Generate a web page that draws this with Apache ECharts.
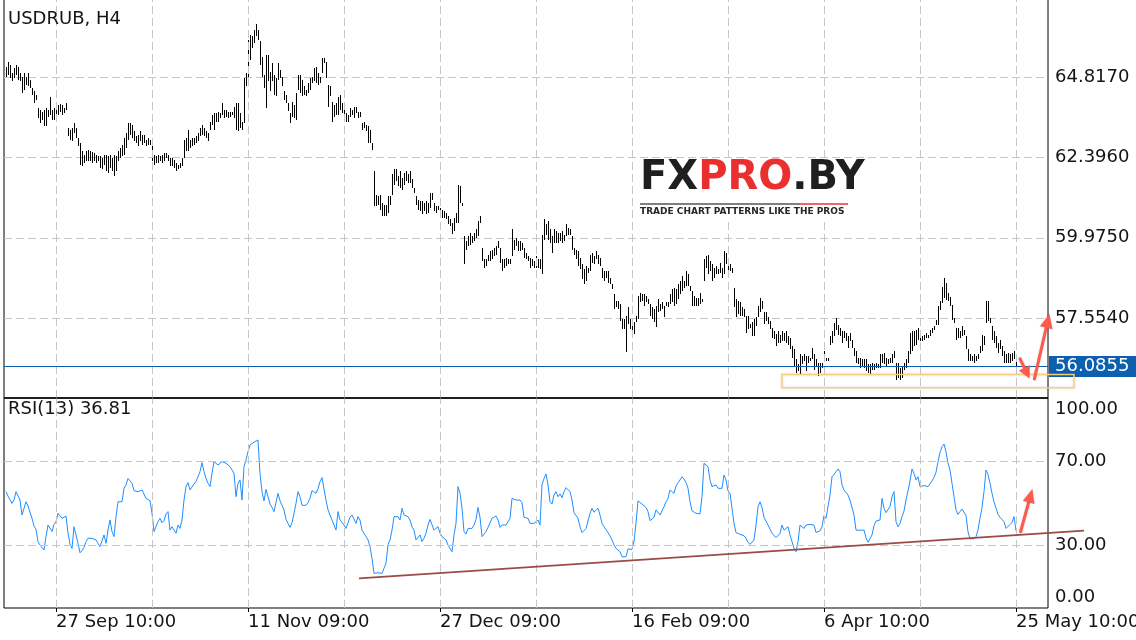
<!DOCTYPE html>
<html><head><meta charset="utf-8">
<script src="https://cdn.jsdelivr.net/npm/echarts@6/dist/echarts.min.js"></script>
<style>html,body{margin:0;padding:0;background:#fff}#c{width:1136px;height:640px}</style>
</head><body><div id="c"></div>
<script>
const symbolTitle = 'USDRUB, H4';
const rsiTitle = 'RSI(13) 36.81';
const dateTickIndex = [25,121,217,313,409,505];
const dateTickLabels = ['27 Sep 10:00','11 Nov 09:00','27 Dec 09:00','16 Feb 09:00','6 Apr 10:00','25 May 10:00'];
const gridTickIndex = [25,73,121,169,217,265,313,361,409,457,505];
const priceTicks = [57.554,59.975,62.396,64.817];
const rsiTicks = [0,30,70,100];
const lastPrice = 56.0855;
// H4 bars: [low, high]
const barsHL = [
[64.85,65.15],[64.9,65.3],[64.8,65.2],[64.7,64.95],[64.8,65.1],[64.9,65.2],[64.75,65.15],[64.7,64.95],[64.35,64.85],[64.45,64.95],
[64.6,64.85],[64.55,64.95],[64.5,64.75],[64.3,64.5],[64.05,64.4],[64.15,64.3],[63.59,63.89],[63.44,63.84],[63.54,63.79],[63.34,63.84],
[63.34,63.89],[63.64,63.84],[63.69,64.24],[63.54,63.84],[63.54,63.89],[63.64,63.94],[63.69,63.99],[63.79,64.01],[63.69,63.99],[63.74,63.89],
[63.84,64.04],[63.04,63.29],[62.94,63.24],[62.89,63.29],[63.14,63.44],[62.99,63.29],[62.74,62.99],[62.19,62.84],[62.14,62.59],[62.24,62.49],
[62.29,62.59],[62.29,62.64],[62.29,62.59],[62.24,62.57],[62.29,62.54],[62.24,62.49],[62.29,62.44],[62.09,62.44],[62.04,62.39],[62.19,62.49],
[61.99,62.49],[61.94,62.44],[62.09,62.49],[61.99,62.39],[61.84,62.49],[61.99,62.44],[62.29,62.59],[62.39,62.69],[62.44,62.79],[62.49,62.99],
[62.69,63.14],[62.94,63.44],[63.09,63.44],[62.99,63.39],[62.89,63.19],[62.84,63.04],[62.74,63.09],[62.89,63.19],[62.79,63.09],[62.84,63.09],
[62.74,62.94],[62.79,62.99],[62.79,62.94],[62.29,62.79],[62.19,62.49],[62.24,62.44],[62.24,62.49],[62.29,62.44],[62.24,62.49],[62.29,62.54],
[62.39,62.54],[62.29,62.49],[62.14,62.39],[62.14,62.39],[62.09,62.34],[61.99,62.24],[62.04,62.19],[62.09,62.24],[62.14,62.39],[62.39,62.94],
[62.59,62.99],[62.59,63.24],[62.69,62.94],[62.74,62.99],[62.79,62.99],[62.84,63.04],[62.89,63.14],[63.04,63.29],[63.09,63.39],[63.04,63.29],
[62.99,63.19],[62.89,63.14],[63.24,63.49],[63.39,63.69],[63.24,63.74],[63.49,63.74],[63.49,63.79],[63.59,63.74],[63.69,64.04],[63.59,63.84],
[63.64,63.84],[63.59,63.79],[63.64,63.79],[63.69,63.79],[63.59,63.94],[63.24,64.04],[63.19,64.04],[63.29,63.74],[63.24,63.49],[63.44,64.8],
[64.55,64.95],[64.85,65.96],[65.35,66.11],[65.71,66.06],[65.86,66.26],[66.06,66.43],[65.96,66.26],[65.2,65.91],[64.85,65.45],[64.5,64.9],
[63.9,65.5],[64.7,65.5],[64.4,65.0],[64.7,65.25],[64.3,64.9],[64.25,64.8],[64.75,65.25],[64.8,65.05],[64.55,64.85],[64.15,64.4],
[64.05,64.3],[63.8,64.04],[63.44,63.74],[63.64,64.09],[63.59,63.99],[63.54,64.35],[64.45,64.9],[64.35,64.9],[64.25,64.75],[64.3,64.55],
[64.25,64.45],[64.35,64.65],[64.45,64.8],[64.65,64.85],[64.7,65.1],[64.65,65.15],[64.6,64.95],[64.65,64.85],[64.95,65.4],[65.25,65.4],
[64.8,65.3],[63.94,64.6],[64.25,64.55],[63.49,64.09],[63.64,63.99],[63.69,64.04],[63.69,64.24],[63.84,64.3],[63.74,64.04],[63.59,63.84],
[63.49,63.74],[63.49,63.69],[63.64,63.89],[63.69,63.84],[63.59,63.94],[63.74,63.94],[63.59,63.79],[63.64,63.79],[63.24,63.44],[63.29,63.49],
[63.19,63.39],[62.84,63.34],[62.84,63.24],[62.64,62.84],[60.93,61.99],[60.93,61.28],[60.98,61.23],[60.83,61.28],[60.63,61.03],[60.63,60.98],
[60.63,60.98],[60.73,61.23],[60.98,61.23],[61.28,61.89],[61.58,62.04],[61.68,62.04],[61.53,61.84],[61.48,61.99],[61.43,61.79],[61.58,61.94],
[61.68,61.99],[61.63,61.89],[61.63,61.99],[61.48,61.74],[61.33,61.48],[60.98,61.23],[60.83,61.13],[60.78,61.08],[60.68,61.08],[60.78,61.03],
[60.68,61.08],[60.73,61.03],[60.88,61.33],[61.13,61.33],[60.78,61.03],[60.73,60.93],[60.83,60.93],[60.68,60.88],[60.58,60.83],[60.58,60.78],
[60.53,60.73],[60.38,60.63],[60.33,60.53],[60.08,60.43],[60.18,60.58],[60.43,60.73],[60.43,61.58],[61.03,61.53],[60.93,61.03],[59.17,60.03],
[59.62,59.87],[59.72,60.03],[59.77,60.13],[59.82,60.03],[59.87,60.13],[59.97,60.23],[60.03,60.48],[60.43,60.63],[59.27,59.67],[59.07,59.32],
[59.12,59.32],[59.27,59.47],[59.27,59.57],[59.32,59.62],[59.42,59.67],[59.47,59.72],[59.67,59.87],[59.22,59.67],[58.97,59.32],[59.07,59.32],
[59.12,59.37],[59.17,59.32],[59.17,59.32],[59.42,60.23],[59.62,59.92],[59.72,59.97],[59.57,59.87],[59.57,59.87],[59.62,59.82],[59.37,59.67],
[59.32,59.52],[59.27,59.42],[59.07,59.37],[59.12,59.32],[59.07,59.27],[59.07,59.42],[59.07,59.32],[59.02,59.32],[58.87,60.07],[59.92,60.53],
[60.07,60.38],[59.92,60.48],[59.82,60.23],[59.52,60.03],[59.82,60.23],[59.82,60.18],[59.82,60.13],[59.87,60.13],[59.82,60.18],[59.87,60.07],
[60.03,60.38],[60.07,60.28],[60.07,60.23],[59.62,60.03],[59.47,59.67],[59.32,59.62],[59.12,59.57],[59.02,59.37],[58.72,59.17],[58.57,59.02],
[58.67,59.12],[58.92,59.07],[58.97,59.47],[59.22,59.52],[59.17,59.42],[59.32,59.57],[59.17,59.47],[59.12,59.37],[58.77,59.07],[58.67,58.97],
[58.77,58.97],[58.62,58.97],[58.57,58.77],[58.42,58.57],[57.82,58.27],[57.87,58.07],[57.82,58.07],[57.47,57.97],[57.21,57.51],[57.21,57.51],
[56.51,57.61],[57.37,57.87],[57.21,57.51],[56.96,57.37],[57.06,57.42],[57.42,57.61],[57.52,58.22],[58.02,58.32],[58.07,58.27],[57.92,58.27],
[58.02,58.22],[57.97,58.12],[57.62,57.97],[57.52,57.87],[57.42,57.82],[57.27,57.92],[57.72,58.12],[57.77,57.97],[57.82,58.02],[57.57,57.92],
[57.92,58.02],[57.87,58.02],[57.97,58.27],[58.02,58.42],[57.92,58.47],[57.97,58.42],[58.12,58.57],[58.27,58.67],[58.37,58.82],[58.47,58.67],
[58.52,58.97],[58.52,58.87],[58.37,58.52],[57.92,58.37],[57.92,58.22],[57.92,58.17],[57.92,58.17],[57.97,58.32],[58.02,58.12],[58.67,59.32],
[59.07,59.42],[58.87,59.47],[58.97,59.27],[58.67,59.17],[58.77,59.07],[58.87,59.12],[58.87,59.02],[58.92,59.22],[58.77,59.07],[58.87,59.57],
[59.17,59.52],[58.92,59.22],[58.97,59.17],[58.92,59.07],[57.87,58.47],[57.57,58.12],[57.67,58.07],[57.62,58.02],[57.62,57.87],[57.57,57.82],
[57.11,57.61],[57.21,57.61],[57.26,57.37],[57.01,57.42],[57.01,57.52],[57.31,57.57],[57.57,57.92],[57.72,58.17],[57.82,58.07],[57.37,57.72],
[57.47,57.72],[57.37,57.57],[57.21,57.47],[56.96,57.26],[56.91,57.16],[56.71,57.06],[56.81,57.16],[56.8,57.05],[56.85,57.15],[56.85,57.1],
[56.8,57.15],[56.75,57.0],[56.6,56.95],[56.35,56.7],[56.1,56.6],[55.89,56.3],[55.94,56.15],[55.84,56.45],[56.15,56.4],[56.25,56.45],
[55.94,56.4],[56.2,56.4],[56.25,56.35],[56.3,56.65],[55.99,56.45],[56.1,56.3],[55.79,56.2],[55.89,56.2],[56.04,56.2],[56.3,56.55],
[56.25,56.35],[56.25,56.35],[56.75,57.0],[56.8,57.15],[57.0,57.4],[57.2,57.55],[57.05,57.35],[57.0,57.25],[56.8,57.15],[56.95,57.15],
[56.85,57.1],[56.65,57.0],[56.85,57.1],[56.65,56.9],[56.4,56.65],[56.2,56.55],[56.15,56.35],[56.05,56.35],[56.1,56.3],[56.05,56.3],
[55.94,56.3],[55.89,56.15],[55.84,56.15],[55.99,56.2],[55.99,56.15],[56.04,56.2],[56.04,56.15],[56.04,56.45],[56.2,56.45],[56.15,56.5],
[56.1,56.35],[56.15,56.3],[56.2,56.35],[56.2,56.45],[56.35,56.55],[55.69,56.2],[55.74,56.2],[55.69,56.04],[55.74,56.1],[55.99,56.2],
[56.04,56.3],[56.2,56.55],[56.45,57.1],[56.55,57.15],[56.7,57.15],[56.75,57.2],[56.9,57.25],[56.85,57.15],[56.85,57.0],[56.9,57.05],
[56.95,57.1],[56.95,57.05],[57.0,57.2],[57.1,57.25],[57.2,57.3],[57.35,57.5],[57.35,57.9],[57.8,58.05],[58.0,58.5],[58.15,58.75],
[58.1,58.6],[58.05,58.3],[57.9,58.2],[57.5,57.95],[57.4,57.55],[56.9,57.25],[56.95,57.25],[56.95,57.15],[57.0,57.3],[57.05,57.2],
[56.6,57.0],[56.25,56.6],[56.25,56.45],[56.25,56.4],[56.2,56.45],[56.25,56.4],[56.3,56.45],[56.5,56.7],[56.55,57.05],[56.75,57.0],
[57.4,58.05],[57.45,58.05],[57.4,57.55],[56.9,57.3],[56.8,57.15],[56.65,57.0],[56.5,56.8],[56.6,56.9],[56.4,56.7],[56.2,56.55],
[56.2,56.45],[56.2,56.5],[56.2,56.45],[56.25,56.5],[56.3,56.55],[55.99,56.3]
];
const rsi13 = [
55.4,53.3,53.0,49.8,51.4,55.4,54.9,51.4,44.3,44.3,
50.6,48.6,48.0,42.7,39.0,37.5,31.6,30.0,29.2,27.6,
34.0,39.5,38.7,36.4,39.8,41.1,45.1,45.4,42.7,43.2,
43.8,35.6,30.5,28.4,38.7,34.8,30.8,26.3,27.3,28.9,
31.6,33.2,32.4,33.2,32.4,32.4,30.8,29.2,30.0,34.8,
30.8,37.1,41.9,36.4,34.0,43.5,50.6,51.4,50.6,57.0,
58.6,61.7,62.5,59.4,55.9,55.4,55.4,55.4,56.2,57.0,
52.2,51.4,51.1,45.1,36.4,37.1,41.1,42.7,40.6,41.6,
44.8,45.9,37.1,38.7,37.9,35.6,39.5,37.9,41.9,51.4,
57.8,59.7,56.2,56.5,59.0,60.2,61.0,64.9,69.2,64.9,
61.7,59.4,57.8,64.1,69.7,70.5,68.1,68.9,69.7,70.5,
68.9,68.9,67.3,66.5,64.1,53.0,59.4,61.0,51.4,67.3,
70.5,74.4,77.6,78.4,79.0,79.4,80.0,64.0,55.4,51.0,
56.5,53.0,49.5,47.9,45.9,45.7,54.6,51.0,51.7,46.7,
42.2,40.3,38.4,40.6,45.1,49.8,55.4,53.0,48.9,48.6,
48.9,50.2,52.2,55.9,55.9,54.6,56.8,60.2,62.1,62.5,
51.4,46.7,47.5,41.9,39.5,37.1,45.9,41.9,41.6,39.5,
37.9,37.1,43.2,44.3,44.3,40.3,43.5,41.9,37.1,36.4,
34.0,32.4,29.2,23.6,16.5,17.3,16.8,17.3,16.5,16.2,
21.3,30.0,32.4,37.1,43.5,44.3,43.5,41.9,47.5,44.3,
44.3,43.5,41.9,38.7,37.1,32.4,31.6,34.8,31.6,33.2,
35.6,39.5,42.2,41.9,37.1,37.1,38.7,35.6,34.0,34.0,
32.4,30.0,30.8,26.8,34.8,40.3,57.8,54.6,47.5,36.4,
35.2,37.9,38.4,37.9,39.5,42.2,47.9,43.2,34.0,33.2,
36.4,38.4,37.9,42.7,41.9,43.8,41.9,38.4,39.5,39.8,
39.5,40.0,42.7,52.2,51.7,51.4,51.0,51.4,50.2,43.2,
43.2,42.7,40.3,39.5,40.3,41.1,41.9,39.5,58.6,61.7,
63.8,58.6,50.6,49.5,53.8,55.4,53.0,54.3,52.5,55.4,
57.3,57.5,55.4,51.4,45.4,45.9,42.7,38.7,35.9,35.2,
37.8,38.7,45.1,47.5,45.6,45.9,47.5,44.3,40.3,38.7,
38.4,35.9,34.3,32.4,30.0,28.4,29.2,26.8,24.4,24.8,
24.4,28.1,27.3,27.9,31.6,40.3,51.0,50.6,49.5,50.2,
47.9,45.9,41.6,41.3,43.2,46.7,46.3,44.3,45.1,48.2,
50.6,52.2,56.2,57.0,54.6,58.1,59.0,61.0,62.5,61.4,
59.7,57.0,50.6,46.3,45.6,45.1,45.1,44.8,53.0,68.9,
68.9,67.3,61.0,57.8,58.6,58.6,57.0,57.5,57.0,63.3,
61.0,55.7,54.6,53.8,40.3,35.9,35.6,35.1,34.3,34.4,
33.2,31.3,30.3,29.5,32.4,39.5,48.2,50.6,47.9,43.2,
41.4,39.5,37.6,35.6,35.0,33.5,34.0,35.5,39.5,37.1,
37.1,38.7,34.8,34.0,28.4,26.8,31.6,39.5,38.7,37.9,
39.5,39.0,39.8,39.2,39.5,36.0,35.1,36.7,38.7,44.0,
42.7,43.5,53.8,62.5,63.6,64.9,66.2,64.9,58.6,56.2,
56.2,53.8,51.4,50.6,44.3,37.1,36.7,37.0,37.1,37.1,
33.5,31.3,31.6,34.8,39.2,41.4,40.8,41.9,52.2,47.5,
45.4,45.6,48.3,53.0,55.4,41.1,38.7,40.3,43.5,46.2,
51.4,55.7,60.5,66.2,64.1,61.0,62.5,57.8,57.0,58.3,
57.8,57.8,58.3,60.5,62.2,64.6,69.7,74.1,76.8,78.1,
74.4,68.9,65.7,59.4,53.0,46.7,44.6,45.9,47.1,46.8,
44.0,36.3,32.9,32.9,33.0,34.0,37.1,42.7,47.8,55.4,
65.7,63.6,59.4,54.6,50.6,47.5,44.6,43.2,42.9,41.1,
37.9,38.3,39.8,40.8,43.5,36.81
];
// annotations drawn on the chart (data coordinates: bar index, value)
const priceArrowDown = [[507,56.32],[511.8,55.72]];
const priceArrowUp = [[514.2,55.71],[521.7,57.67]];
const rsiArrowUp = [[507.3,36.3],[513.2,56.7]];
const supportZone = [[388,55.84],[534,55.44]];
const rsiTrendLine = [[176.5,14.1],[539,36.8]];

const FONT = '"DejaVu Sans", sans-serif';
const chart = echarts.init(document.getElementById('c'), null, {renderer:'canvas', width:1136, height:640});
const barData = barsHL.map((d,i)=>[i,d[0],d[1]]);
const rsiData = rsi13.map((v,i)=>[i,v]);
const dash = {color:'#c6c6c6', width:1, type:[8,4]};
const txt = {fontFamily:FONT, fontSize:18, color:'#141414'};
const xBase = {type:'value', min:-1, max:521, splitLine:{show:false}, axisLine:{show:false}, axisTick:{show:false}, axisLabel:{show:false}};

function renderBar(params, api){
  const i = api.value(0);
  const lo = api.coord([i, api.value(1)]);
  const hi = api.coord([i, api.value(2)]);
  const x = Math.floor(lo[0]);
  const top = Math.round(hi[1]);
  const h = Math.max(1, Math.round(lo[1]) - top);
  return {type:'rect', shape:{x:x, y:top, width:1, height:h}, style:{fill:'#000'}};
}
const vLines = gridTickIndex.map(v=>({xAxis:v, lineStyle:dash, label:{show:false}}));

const option = {
  animation:false,
  backgroundColor:'#fff',
  title:[
    {text:symbolTitle, left:8, top:10, padding:0, textStyle:{...txt, fontWeight:'normal'}},
    {text:rsiTitle, left:8, top:400, padding:0, textStyle:{...txt, fontWeight:'normal'}}
  ],
  grid:[
    {left:4, right:88, top:-2, height:400, show:true, borderColor:'#000', borderWidth:1, backgroundColor:'transparent', outerBoundsMode:'none', containLabel:false},
    {left:4, right:88, top:398, height:210, show:true, borderColor:'#000', borderWidth:1, backgroundColor:'transparent', outerBoundsMode:'none', containLabel:false}
  ],
  xAxis:[
    {...xBase, gridIndex:0},
    {...xBase, gridIndex:1,
      axisTick:{show:true, customValues:dateTickIndex, length:4, lineStyle:{color:'#000'}},
      axisLabel:{show:true, customValues:dateTickIndex, align:'left', margin:5, ...txt,
        formatter:(v)=>{const k=dateTickIndex.indexOf(Math.round(v)); return k>=0?dateTickLabels[k]:'';}}}
  ],
  yAxis:[
    {gridIndex:0, type:'value', position:'right', min:55.133, max:67.223, interval:2.421,
      axisLine:{show:false}, axisTick:{show:false},
      splitLine:{show:true, showMinLine:false, showMaxLine:false, lineStyle:dash},
      axisLabel:{margin:7, ...txt, formatter:(v)=>priceTicks.some(t=>Math.abs(t-v)<0.002)?v.toFixed(4):''}},
    {gridIndex:1, type:'value', position:'right', min:0, max:100, interval:10,
      axisLine:{show:false}, axisTick:{show:false}, splitLine:{show:false},
      axisLabel:{margin:7, ...txt, lineHeight:22, verticalAlignMinLabel:'bottom', verticalAlignMaxLabel:'top',
        formatter:(v)=>rsiTicks.some(t=>Math.abs(t-v)<0.01)?v.toFixed(2):''}}
  ],
  series:[
    {type:'custom', name:'USDRUB', xAxisIndex:0, yAxisIndex:0, data:barData, renderItem:renderBar,
      encode:{x:0, y:[1,2]}, z:3,
      markLine:{silent:true, symbol:'none', animation:false, precision:4,
        data:[...vLines,
          {yAxis:lastPrice, lineStyle:{color:'#0d5fb0', width:1, type:'solid'},
           label:{show:true, position:'end', distance:1, formatter:lastPrice.toFixed(4),
             color:'#fff', backgroundColor:'#0d5fb0', padding:[2,12,1,6], lineHeight:18,
             fontFamily:FONT, fontSize:18}}]}},
    {type:'line', name:'RSI(13)', xAxisIndex:1, yAxisIndex:1, data:rsiData, symbol:'none', showSymbol:false,
      lineStyle:{color:'#1e8fff', width:1}, z:3,
      markLine:{silent:true, symbol:'none', animation:false,
        data:[...vLines, {yAxis:30, lineStyle:dash, label:{show:false}}, {yAxis:70, lineStyle:dash, label:{show:false}}]}}
  ]
};
chart.setOption(option);

function px(g, p){ return chart.convertToPixel({xAxisIndex:g, yAxisIndex:g}, p); }
function arrow(p0, p1, w, headLen, headW, color){
  const dx=p1[0]-p0[0], dy=p1[1]-p0[1], L=Math.hypot(dx,dy), ux=dx/L, uy=dy/L;
  const bx=p1[0]-ux*headLen, by=p1[1]-uy*headLen, nx=-uy, ny=ux;
  const sh = {shadowBlur:2, shadowColor:'rgba(0,0,0,0.18)'};
  return [
    {type:'line', z:100, shape:{x1:p0[0], y1:p0[1], x2:bx+ux*2, y2:by+uy*2}, style:{stroke:color, lineWidth:w, lineCap:'round', ...sh}},
    {type:'polygon', z:100, shape:{points:[[p1[0],p1[1]],[bx+nx*headW/2,by+ny*headW/2],[bx-nx*headW/2,by-ny*headW/2]]}, style:{fill:color, ...sh}}
  ];
}
const red = '#ff5a4f';
const z0 = px(0, supportZone[0]), z1 = px(0, supportZone[1]);
const t0 = px(1, rsiTrendLine[0]), t1 = px(1, rsiTrendLine[1]);
const graphics = [
  {type:'line', z:80, shape:{x1:4, y1:398, x2:1048, y2:398}, style:{stroke:'#000', lineWidth:1}},
  {type:'rect', z:90, shape:{x:636, y:160, width:230, height:59}, style:{fill:'#fff'}},
  {type:'text', z:91, x:640, y:179, style:{text:'{a|FX}{b|PRO}{a|.BY}', verticalAlign:'middle',
     font:'bold 40px "DejaVu Sans"',
     rich:{a:{font:'bold 40px "DejaVu Sans"', fill:'#1f1f1f'}, b:{font:'bold 40px "DejaVu Sans"', fill:'#ea2f2f'}}}},
  {type:'line', z:91, shape:{x1:640, y1:204, x2:800, y2:204}, style:{stroke:'#555', lineWidth:1.5}},
  {type:'line', z:91, shape:{x1:800, y1:204, x2:848, y2:204}, style:{stroke:'#ee3333', lineWidth:1.5}},
  {type:'text', z:91, x:640, y:212, style:{text:'TRADE CHART PATTERNS LIKE THE PROS', verticalAlign:'middle',
     font:'bold 9px "DejaVu Sans"', fill:'#262626'}},
  {type:'rect', z:95, shape:{x:z0[0], y:z0[1], width:z1[0]-z0[0], height:z1[1]-z0[1]},
     style:{fill:null, stroke:'#f4d07e', lineWidth:1.5, shadowBlur:3, shadowColor:'rgba(0,0,0,0.15)'}},
  {type:'line', z:95, shape:{x1:t0[0], y1:t0[1], x2:t1[0], y2:t1[1]}, style:{stroke:'#9c4a46', lineWidth:1.8}},
  ...arrow(px(0,priceArrowDown[0]), px(0,priceArrowDown[1]), 3, 12, 12, red),
  ...arrow(px(0,priceArrowUp[0]), px(0,priceArrowUp[1]), 3, 14, 13, red),
  ...arrow(px(1,rsiArrowUp[0]), px(1,rsiArrowUp[1]), 3, 14, 12, red)
];
chart.setOption({graphic: graphics});
</script>
</body></html>
